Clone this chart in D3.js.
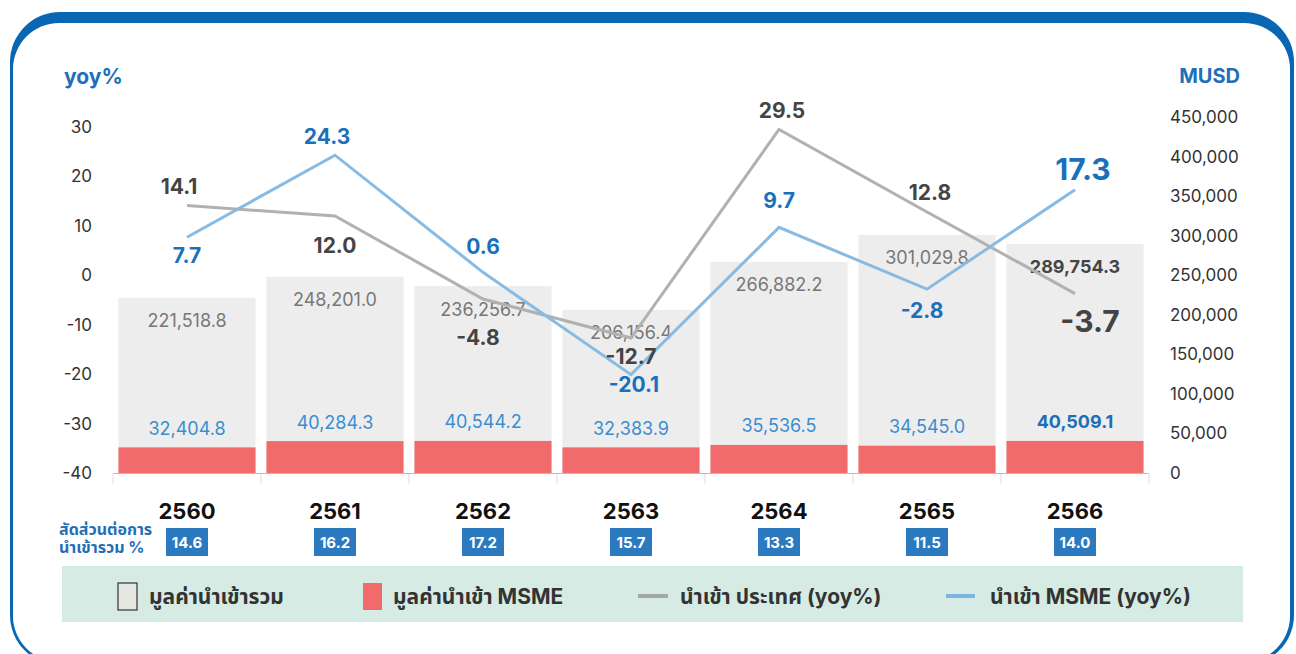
<!DOCTYPE html>
<html lang="th">
<meta charset="utf-8">
<head>
<script src="https://d3js.org/d3.v7.min.js"></script>
<style>
  body { margin: 0; background: #fff; }
  text { font-family: "Inter", "Noto Sans", "Noto Sans Thai", "DejaVu Sans", sans-serif; }
</style>
</head>
<body>
<div id="chart"></div>
<script>

// data
var years = ['2560', '2561', '2562', '2563', '2564', '2565', '2566']
var importTotal = [221518.8, 248201.0, 236256.7, 206156.4, 266882.2, 301029.8, 289754.3]
var importMsme = [32404.8, 40284.3, 40544.2, 32383.9, 35536.5, 34545.0, 40509.1]
var yoyTotal = [14.1, 12.0, -4.8, -12.7, 29.5, 12.8, -3.7]
var yoyMsme = [7.7, 24.3, 0.6, -20.1, 9.7, -2.8, 17.3]
var shareMsme = [14.6, 16.2, 17.2, 15.7, 13.3, 11.5, 14.0]
var leftTicks = [30, 20, 10, 0, -10, -20, -30, -40]
var rightTicks = [0, 50000, 100000, 150000, 200000, 250000, 300000, 350000, 400000, 450000]

// label nudges (dx, dy from the point)
var grayPos = [[-8,-19],[0,30],[-5,38],[0,18],[3,-19],[3,-20],[15,27]]
var bluePos = [[0,18],[-8,-19],[0,-26],[3,10],[0,-27],[-5,21],[8,-21]]

var W = 1296, H = 654
var blue = '#1f6fb8'

var svg = d3.select('#chart').append('svg')
  .attr('width', W).attr('height', H)

// frame
svg.append('rect').attr('x', 10).attr('y', 12).attr('width', 1284).attr('height', 653)
  .attr('rx', 50).attr('fill', '#0866b2')
svg.append('rect').attr('x', 13).attr('y', 23).attr('width', 1277).attr('height', 639)
  .attr('rx', 46).attr('fill', '#fff')

var x = d3.scaleBand().domain(years).range([113, 1149]).paddingInner(0.074).paddingOuter(0.037)
var yR = d3.scaleLinear().domain([0, 450000]).range([473, 117])
var yL = d3.scaleLinear().domain([-40, 30]).range([473, 127])
var cx = d => x(d) + x.bandwidth() / 2
var fmt = d3.format(',.1f')

// axis ticks left
var gl = svg.append('g').attr('transform', 'translate(98,0)')
  .call(d3.axisLeft(yL).tickValues(leftTicks).tickSize(0).tickPadding(6).tickFormat(d => d < 0 ? '-' + Math.abs(d) : d))
gl.select('.domain').remove()
gl.selectAll('text').attr('font-size', 17).attr('fill', '#333').attr('font-family', 'Inter, sans-serif')

var gr = svg.append('g').attr('transform', 'translate(1164,0)')
  .call(d3.axisRight(yR).tickValues(rightTicks).tickSize(0).tickPadding(6).tickFormat(d3.format(',')))
gr.select('.domain').remove()
gr.selectAll('text').attr('font-size', 17).attr('fill', '#333').attr('font-family', 'Inter, sans-serif')

svg.append('text').attr('x', 64).attr('y', 84).text('yoy%')
  .attr('font-size', 21).attr('font-weight', 'bold').attr('fill', blue)
svg.append('text').attr('x', 1240).attr('y', 83).text('MUSD').attr('text-anchor', 'end')
  .attr('font-size', 20).attr('font-weight', 'bold').attr('fill', blue)

// bars
svg.selectAll('rect.tot').data(years).enter().append('rect')
  .attr('x', d => x(d)).attr('width', x.bandwidth())
  .attr('y', (d, i) => yR(importTotal[i])).attr('height', (d, i) => yR(0) - yR(importTotal[i]))
  .attr('fill', '#ededed')
svg.selectAll('rect.msme').data(years).enter().append('rect')
  .attr('x', d => x(d)).attr('width', x.bandwidth())
  .attr('y', (d, i) => yR(importMsme[i])).attr('height', (d, i) => yR(0) - yR(importMsme[i]))
  .attr('fill', '#f26b6c')

// bottom axis: boundary ticks
var bounds = years.map(d => x(d) - x.step() * x.paddingInner() / 2)
bounds.push(1149)
svg.append('line').attr('x1', 113).attr('x2', 1149).attr('y1', 473.5).attr('y2', 473.5)
  .attr('stroke', '#9cc3e4').attr('stroke-width', 1)
svg.selectAll('line.bt').data(bounds).enter().append('line')
  .attr('x1', d => d).attr('x2', d => d).attr('y1', 474).attr('y2', 484)
  .attr('stroke', '#ddd')

svg.selectAll('text.yr').data(years).enter().append('text')
  .attr('x', d => cx(d)).attr('y', 519).attr('text-anchor', 'middle')
  .attr('font-size', 22).attr('font-weight', 'bold').attr('fill', '#111').text(d => d)

// share boxes
svg.selectAll('rect.box').data(years).enter().append('rect')
  .attr('x', d => cx(d) - 21).attr('y', 528).attr('width', 42).attr('height', 28)
  .attr('fill', '#2b79be')
svg.selectAll('text.box').data(years).enter().append('text')
  .attr('x', d => cx(d)).attr('y', 548).attr('text-anchor', 'middle')
  .attr('font-size', 15).attr('font-weight', 'bold').attr('fill', '#fff')
  .text((d, i) => shareMsme[i].toFixed(1))
svg.append('text').attr('x', 59).attr('y', 535).text('สัดส่วนต่อการ')
  .attr('font-size', 16).attr('font-weight', 'bold').attr('fill', blue)
svg.append('text').attr('x', 59).attr('y', 553).text('นำเข้ารวม %')
  .attr('font-size', 16).attr('font-weight', 'bold').attr('fill', blue)

// bar value labels
svg.selectAll('text.tl').data(years).enter().append('text')
  .attr('x', d => cx(d)).attr('y', (d, i) => yR(importTotal[i]) + 23)
  .attr('dominant-baseline', 'central').attr('text-anchor', 'middle')
  .attr('font-size', 18)
  .attr('font-weight', (d, i) => i == 6 ? 'bold' : 'normal')
  .attr('fill', (d, i) => i == 6 ? '#444' : '#777')
  .text((d, i) => fmt(importTotal[i]))
svg.selectAll('text.ml').data(years).enter().append('text')
  .attr('x', d => cx(d)).attr('y', (d, i) => yR(importMsme[i]) - 19)
  .attr('dominant-baseline', 'central').attr('text-anchor', 'middle')
  .attr('font-size', 18)
  .attr('font-weight', (d, i) => i == 6 ? 'bold' : 'normal')
  .attr('fill', (d, i) => i == 6 ? '#1a6fb8' : '#3a8ed0')
  .text((d, i) => fmt(importMsme[i]))

// lines
var line = d3.line().x((d, i) => cx(years[i])).y(d => yL(d))
svg.append('path').datum(yoyTotal).attr('d', line)
  .attr('fill', 'none').attr('stroke', '#b1b1b1').attr('stroke-width', 3)
svg.append('path').datum(yoyMsme).attr('d', line)
  .attr('fill', 'none').attr('stroke', '#88bbe3').attr('stroke-width', 3)

svg.selectAll('text.gy').data(yoyTotal).enter().append('text')
  .attr('x', (d, i) => cx(years[i]) + grayPos[i][0]).attr('y', (d, i) => yL(d) + grayPos[i][1])
  .attr('dominant-baseline', 'central').attr('text-anchor', 'middle')
  .attr('font-size', (d, i) => i == 6 ? 30 : 21).attr('font-weight', 'bold').attr('fill', '#444')
  .text(d => d < 0 ? '-' + Math.abs(d).toFixed(1) : d.toFixed(1))
svg.selectAll('text.by').data(yoyMsme).enter().append('text')
  .attr('x', (d, i) => cx(years[i]) + bluePos[i][0]).attr('y', (d, i) => yL(d) + bluePos[i][1])
  .attr('dominant-baseline', 'central').attr('text-anchor', 'middle')
  .attr('font-size', (d, i) => i == 6 ? 30 : 21).attr('font-weight', 'bold').attr('fill', '#1a70ba')
  .text(d => d < 0 ? '-' + Math.abs(d).toFixed(1) : d.toFixed(1))

// legend
svg.append('rect').attr('x', 62).attr('y', 566).attr('width', 1181).attr('height', 56).attr('fill', '#d5ebe3')
var lg = svg.append('g')
lg.append('rect').attr('x', 118).attr('y', 583).attr('width', 19).attr('height', 27)
  .attr('fill', '#e6e8e4').attr('stroke', '#333').attr('stroke-width', 1.2)
lg.append('rect').attr('x', 363).attr('y', 583).attr('width', 19).attr('height', 27).attr('fill', '#f26b6c')
lg.append('line').attr('x1', 638).attr('x2', 668).attr('y1', 596).attr('y2', 596)
  .attr('stroke', '#a6a6a6').attr('stroke-width', 4)
lg.append('line').attr('x1', 946).attr('x2', 975).attr('y1', 596).attr('y2', 596)
  .attr('stroke', '#7cb4e2').attr('stroke-width', 4)
var legendText = [['มูลค่านำเข้ารวม', 149], ['มูลค่านำเข้า MSME', 393], ['นำเข้า ประเทศ (yoy%)', 680], ['นำเข้า MSME (yoy%)', 990]]
lg.selectAll('text').data(legendText).enter().append('text')
  .attr('x', d => d[1]).attr('y', 604).text(d => d[0])
  .attr('font-size', 21).attr('font-weight', 'bold').attr('fill', '#333')

</script>
</body>
</html>
